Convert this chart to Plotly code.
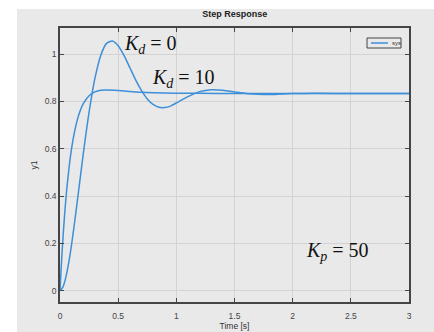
import plotly.graph_objects as go

# Data
t_kd0 = [0, 0.025, 0.05, 0.075, 0.1, 0.125, 0.15, 0.175, 0.2, 0.225, 0.25, 0.275,
         0.3, 0.35, 0.4, 0.45, 0.5, 0.55, 0.6, 0.65, 0.7, 0.75, 0.8, 0.85, 0.9,
         0.95, 1.0, 1.1, 1.2, 1.3, 1.4, 1.5, 1.6, 1.7, 1.8, 1.9, 2.0, 2.2, 2.5, 3.0]
y_kd0 = [0, 0.015, 0.056, 0.118, 0.197, 0.287, 0.383, 0.481, 0.578, 0.670, 0.755,
         0.831, 0.897, 0.994, 1.045, 1.055, 1.035, 0.994, 0.943, 0.891, 0.846,
         0.810, 0.787, 0.775, 0.774, 0.780, 0.793, 0.820, 0.841, 0.849, 0.847,
         0.840, 0.833, 0.830, 0.829, 0.831, 0.833, 0.834, 0.833, 0.833]

t_kd10 = [0, 0.01, 0.02, 0.03, 0.04, 0.05, 0.06, 0.08, 0.1, 0.125, 0.15, 0.175,
          0.2, 0.25, 0.3, 0.35, 0.4, 0.5, 0.6, 0.7, 0.8, 1.0, 1.2, 1.5, 2.0, 3.0]
y_kd10 = [0, 0.095, 0.180, 0.255, 0.323, 0.384, 0.438, 0.529, 0.602, 0.672, 0.724,
          0.762, 0.790, 0.824, 0.840, 0.847, 0.848, 0.846, 0.842, 0.838, 0.836,
          0.834, 0.834, 0.833, 0.833, 0.833]

x_ticks = [0, 0.5, 1, 1.5, 2, 2.5, 3]
x_tick_labels = ["0", "0.5", "1", "1.5", "2", "2.5", "3"]
y_ticks = [0, 0.2, 0.4, 0.6, 0.8, 1]
y_tick_labels = ["0", "0.2", "0.4", "0.6", "0.8", "1"]

LINE = "#3d8fd8"
BG = "#e9e9e9"
AX = "#454545"
GRID = "#d3d3d3"
FONT = "Liberation Sans, Arial, sans-serif"
SERIF = "Liberation Serif, DejaVu Serif, serif"

fig = go.Figure()
fig.add_trace(go.Scatter(x=t_kd0, y=y_kd0, mode="lines", name="sys",
                         line=dict(color=LINE, width=1.5, shape="spline", smoothing=0.6),
                         showlegend=False))
fig.add_trace(go.Scatter(x=t_kd10, y=y_kd10, mode="lines", name="sys",
                         line=dict(color=LINE, width=1.5, shape="spline", smoothing=0.6),
                         showlegend=False))

axis_common = dict(showline=True, linecolor=AX, linewidth=1.5, mirror="ticks",
                   ticks="inside", ticklen=4, tickcolor=AX, tickwidth=1,
                   showgrid=True, gridcolor=GRID, gridwidth=1, zeroline=False,
                   automargin=False,
                   tickfont=dict(family=FONT, size=8.5, color=AX))

fig.update_xaxes(range=[0, 3], tickvals=x_ticks, ticktext=x_tick_labels,
                 ticklabelstandoff=5,
                 title=dict(text="Time [s]", font=dict(family=FONT, size=8.5, color="#333"),
                            standoff=1),
                 **axis_common)
fig.update_yaxes(range=[-0.048, 1.11], tickvals=y_ticks, ticktext=y_tick_labels,
                 title=dict(text="y1", font=dict(family=FONT, size=8.5, color="#333"),
                            standoff=6),
                 **axis_common)

ann_font = dict(family=SERIF, size=20, color="#111")
fig.add_annotation(x=0.535, y=1.04, xref="x", yref="y", showarrow=False,
                   xanchor="left", yanchor="middle",
                   text="<i>K</i><sub><i>d</i></sub> = 0", font=ann_font)
fig.add_annotation(x=0.775, y=0.897, xref="x", yref="y", showarrow=False,
                   xanchor="left", yanchor="middle",
                   text="<i>K</i><sub><i>d</i></sub> = 10", font=ann_font)
fig.add_annotation(x=2.10, y=0.166, xref="x", yref="y", showarrow=False,
                   xanchor="left", yanchor="middle",
                   text="<i>K</i><sub><i>p</i></sub> = 50", font=ann_font)

# legend box (drawn to match the compact MATLAB legend)
fig.add_shape(type="rect", xref="paper", yref="paper", x0=0.8797, x1=0.9771,
              y0=0.927, y1=0.9635, fillcolor=BG, line=dict(color=AX, width=1))
fig.add_shape(type="line", xref="paper", yref="paper", x0=0.8911, x1=0.9398,
              y0=0.9453, y1=0.9453, line=dict(color=LINE, width=1.5))
fig.add_annotation(x=0.9445, y=0.9453, xref="paper", yref="paper", showarrow=False,
                   xanchor="left", yanchor="middle", text="sys",
                   font=dict(family=FONT, size=6, color="#333"))

# white strips around the gray figure area (left and top)
fig.add_shape(type="rect", xref="paper", yref="paper", x0=-0.2, x1=-0.1232,
              y0=-0.2, y1=1.2, fillcolor="white", line_width=0, layer="below")
fig.add_shape(type="rect", xref="paper", yref="paper", x0=-0.2, x1=1.2,
              y0=1.0693, y1=1.2, fillcolor="white", line_width=0, layer="below")

fig.update_layout(
    width=434, height=332,
    margin=dict(l=60, r=25, t=28, b=30, autoexpand=False),
    paper_bgcolor=BG, plot_bgcolor=BG,
    title=dict(text="<b>Step Response</b>", x=0.541, xanchor="center",
               y=1 - 14 / 332, yanchor="middle", automargin=False,
               font=dict(family=FONT, size=9, color="#222")),
    showlegend=False,
)

fig.write_html("out.html")
